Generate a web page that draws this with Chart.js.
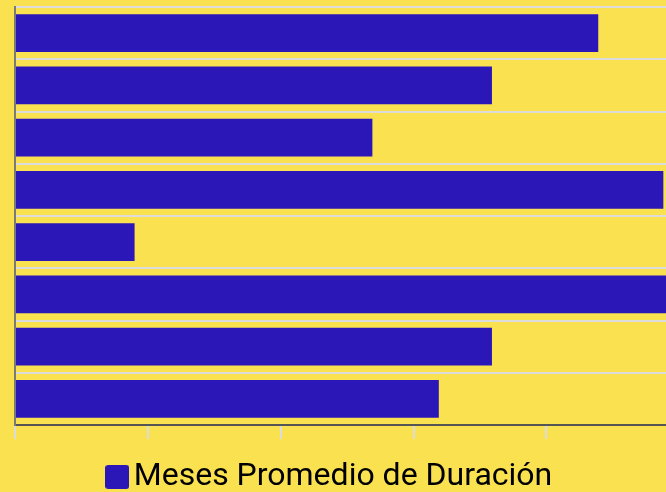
<!DOCTYPE html>
<html>
<head>
<meta charset="utf-8">
<script src="https://cdn.jsdelivr.net/npm/chart.js@4"></script>
<style>
  html, body { margin: 0; padding: 0; background: #fae150; overflow: hidden; }
  #wrap { width: 666px; height: 503px; position: relative; }
</style>
</head>
<body>
<div id="wrap"><canvas id="c"></canvas></div>
<script>
const categories = ["Categoría 1", "Categoría 2", "Categoría 3", "Categoría 4", "Categoría 5", "Categoría 6", "Categoría 7", "Categoría 8"];
const seriesName = "Meses Promedio de Duración";
const seriesValues = [43.9, 35.9, 26.9, 48.8, 9.0, 49.0, 35.9, 31.9];
const xMax = 49;
const xStep = 10;

const barColor = '#2b16b8';

// rounded legend marker
const marker = document.createElement('canvas');
marker.width = 24; marker.height = 24;
(function () {
  const g = marker.getContext('2d');
  g.fillStyle = barColor;
  g.beginPath();
  if (g.roundRect) { g.roundRect(0, 0, 24, 24, 3); } else { g.rect(0, 0, 24, 24); }
  g.fill();
})();

new Chart(document.getElementById('c'), {
  type: 'bar',
  data: {
    labels: categories,
    datasets: [{
      label: seriesName,
      data: seriesValues,
      backgroundColor: barColor,
      borderColor: barColor,
      borderWidth: 0
    }]
  },
  options: {
    indexAxis: 'y',
    responsive: true,
    maintainAspectRatio: false,
    animation: false,
    layout: { padding: { top: 7, left: 3, right: 0, bottom: 0 } },
    plugins: {
      tooltip: { enabled: false },
      legend: {
        position: 'bottom',
        labels: {
          usePointStyle: true,
          pointStyle: marker,
          boxWidth: 1,
          boxHeight: 24,
          padding: 22,
          color: '#000',
          font: { family: 'Roboto', size: 32 }
        }
      }
    },
    scales: {
      x: {
        min: 0,
        max: xMax,
        ticks: { display: false, stepSize: xStep },
        afterBuildTicks: (scale) => { scale.ticks = scale.ticks.filter(t => t.value % xStep === 0); },
        grid: { drawOnChartArea: false, drawTicks: true, tickLength: 14, color: '#dcdcdc', lineWidth: 2 },
        border: { display: true, color: '#555', width: 2 }
      },
      y: {
        ticks: { display: false },
        grid: { color: '#dcdcdc', lineWidth: 2, drawTicks: true, tickLength: 12, tickColor: 'rgba(0,0,0,0)' },
        border: { display: true, color: '#7a7a7a', width: 2 }
      }
    }
  }
});
</script>
</body>
</html>
